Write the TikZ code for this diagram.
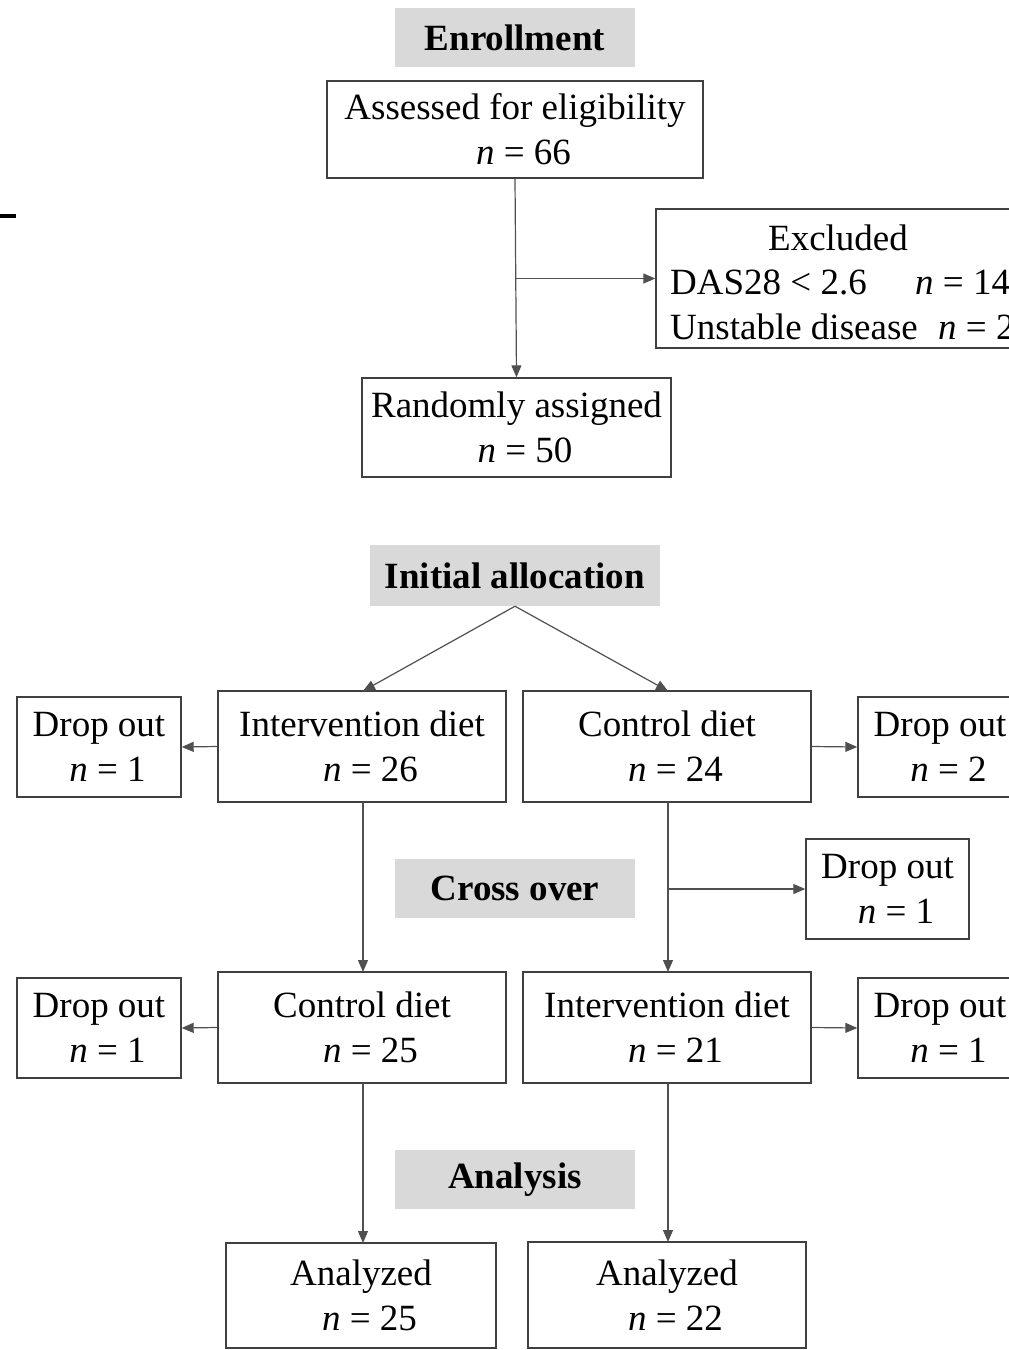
\documentclass[tikz,border=0pt]{standalone}
\usepackage{fontspec}
\setmainfont{Liberation Serif}
\usetikzlibrary{arrows.meta}
\definecolor{hdrgray}{HTML}{D9D9D9}
\definecolor{edge}{HTML}{404040}
\definecolor{conn}{HTML}{505050}
\tikzset{
  txt/.style={font=\fontsize{37}{45}\selectfont, align=center, inner sep=0pt},
  box/.style={draw=edge, line width=1.4pt, fill=white, txt},
  hdr/.style={fill=hdrgray, txt, font=\fontsize{37}{45}\selectfont\bfseries},
  conn/.style={draw=conn, line width=1.2pt},
  arr/.style={conn, -{Triangle[length=12pt,width=10pt]}},
}
\newcommand{\nn}{\textit{n}}
\newcommand{\nline}[1]{\hspace*{17pt}\textit{n} = #1}
\begin{document}
\begin{tikzpicture}[x=1pt,y=-1pt]
\useasboundingbox (0,0) rectangle (1009,1350);
\clip (0,0) rectangle (1009,1350);
\fill[white] (0,0) rectangle (1009,1350);
% stray mark
\coordinate (s1) at (0,216);
\coordinate (s2) at (16,216);
\draw[line width=4pt] (s1) -- (s2);

% Enrollment
\node[hdr, minimum width=240pt, minimum height=59pt] (enr) at (515,37.5) {Enrollment};
\node[box, minimum width=376pt, minimum height=97pt] (assess) at (515,129.5) {Assessed for eligibility\\ \nline{66}};
\node[box, minimum width=364pt, minimum height=139pt] (excl) at (838,278.5) {};
\node[txt] (exclT) at (838,238) {Excluded};
\node[txt, anchor=west] (das) at (670,282) {DAS28 < 2.6};
\node[txt, anchor=west] (das14) at (915,282) {\nn\ = 14};
\node[txt, anchor=west] (unst) at (670,327) {Unstable disease};
\node[txt, anchor=west] (unst2) at (938,327) {\nn\ = 2};
\node[box, minimum width=309pt, minimum height=99pt] (rand) at (516.5,427.5) {Randomly assigned\\ \nline{50}};
\coordinate (jx) at (assess.south |- excl.west);
\draw[arr] (assess.south) -- (rand.north);
\draw[arr] (jx) -- (excl.west);

% Initial allocation
\node[hdr, minimum width=290pt, minimum height=61pt] (init) at (515,575.5) {Initial allocation};
\node[box, minimum width=288pt, minimum height=111pt] (int1) at (362,746.5) {Intervention diet\\ \nline{26}};
\node[box, minimum width=288pt, minimum height=111pt] (con1) at (667,746.5) {Control diet\\ \nline{24}};
\node[box, minimum width=164pt, minimum height=100pt] (dl1) at (99,747) {Drop out\\ \nline{1}};
\node[box, minimum width=164pt, minimum height=100pt] (dr1) at (940,747) {Drop out\\ \nline{2}};
\coordinate (int1top) at (363,691);
\coordinate (con1top) at (668,691);
\draw[arr] (init.south) -- (int1top);
\draw[arr] (init.south) -- (con1top);
\draw[arr] (int1.west) -- (dl1.east);
\draw[arr] (con1.east) -- (dr1.west);

% Cross over
\node[hdr, minimum width=240pt, minimum height=59pt] (cross) at (515,888.5) {Cross over};
\node[box, minimum width=163pt, minimum height=100pt] (dm) at (887.5,889) {Drop out\\ \nline{1}};
\node[box, minimum width=288pt, minimum height=111pt] (con2) at (362,1027.5) {Control diet\\ \nline{25}};
\node[box, minimum width=288pt, minimum height=111pt] (int2) at (667,1027.5) {Intervention diet\\ \nline{21}};
\node[box, minimum width=164pt, minimum height=100pt] (dl2) at (99,1028) {Drop out\\ \nline{1}};
\node[box, minimum width=164pt, minimum height=100pt] (dr2) at (940,1028) {Drop out\\ \nline{1}};
\coordinate (int1b) at (363,802);
\coordinate (con1b) at (668,802);
\coordinate (con2t) at (363,972);
\coordinate (int2t) at (668,972);
\coordinate (jm) at (668,889);
\draw[arr] (int1b) -- (con2t);
\draw[arr] (con1b) -- (int2t);
\draw[arr] (jm) -- (dm.west);
\draw[arr] (con2.west) -- (dl2.east);
\draw[arr] (int2.east) -- (dr2.west);

% Analysis
\node[hdr, minimum width=240pt, minimum height=59pt] (anal) at (515,1179.5) {Analysis};
\node[box, minimum width=270pt, minimum height=105pt] (a1) at (361,1295.5) {Analyzed\\ \nline{25}};
\node[box, minimum width=278pt, minimum height=106pt] (a2) at (667,1295) {Analyzed\\ \nline{22}};
\coordinate (con2b) at (363,1083);
\coordinate (int2b) at (668,1083);
\coordinate (a1t) at (363,1243);
\coordinate (a2t) at (668,1242);
\draw[arr] (con2b) -- (a1t);
\draw[arr] (int2b) -- (a2t);
\end{tikzpicture}
\end{document}
